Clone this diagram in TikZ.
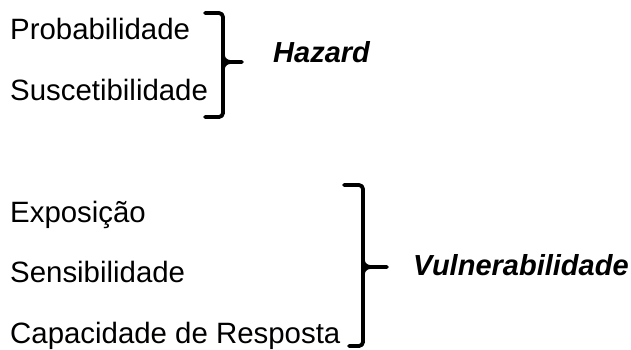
\documentclass[tikz,border=0pt]{standalone}
\usepackage{fontspec}
\setmainfont{Liberation Sans}
\begin{document}
\begin{tikzpicture}[x=1pt,y=-1pt,
  item/.style={anchor=base west,inner sep=0pt,font=\fontsize{29.4}{34}\selectfont},
  label/.style={anchor=base west,inner sep=0pt,font=\fontsize{29}{34}\selectfont\bfseries\itshape},
  bracket/.style={line width=3.8pt,line cap=round,line join=round,rounded corners=4pt}]
\useasboundingbox (0,0) rectangle (631,349);
% Hazard group
\node[item] (p) at (10,39) {Probabilidade};
\node[item] (s) at (10,100) {Suscetibilidade};
\coordinate (h1) at (205,13);
\coordinate (h2) at (205,117);
\draw[bracket] (h1) -- (223,13) -- (223,117) -- (h2);
\draw[line width=3.6pt,line cap=round] (223,55) to[out=-90,in=180] (231,62) -- (242,62);
\draw[line width=3.6pt] (223,69) to[out=90,in=180] (231,62);
\node[label] (hz) at (273,62) {Hazard};
% Vulnerabilidade group
\node[item] (e) at (10,222) {Exposição};
\node[item] (se) at (10,282) {Sensibilidade};
\node[item] (c) at (10,343) {Capacidade de Resposta};
\coordinate (v1) at (344,185);
\coordinate (v2) at (349,346);
\draw[bracket] (v1) -- (363,185) -- (363,346) -- (v2);
\draw[line width=3.6pt,line cap=round] (363,260) to[out=-90,in=180] (371,267) -- (387,267);
\draw[line width=3.6pt] (363,274) to[out=90,in=180] (371,267);
\node[label] (vu) at (413,275) {Vulnerabilidade};
\end{tikzpicture}
\end{document}
